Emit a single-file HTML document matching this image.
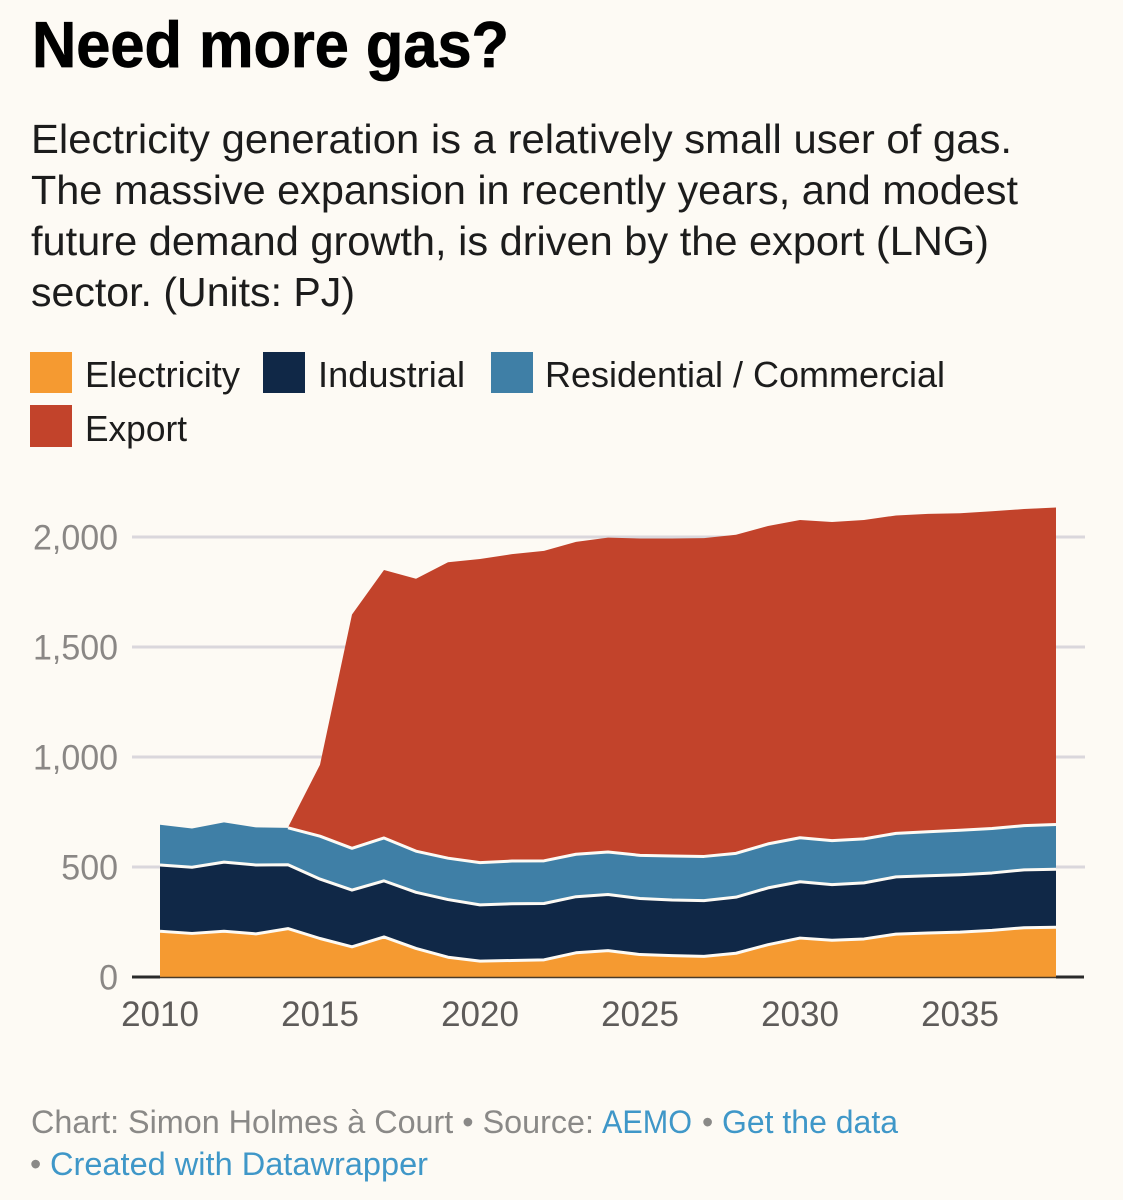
<!DOCTYPE html>
<html lang="en">
<head>
<meta charset="utf-8">
<title>Need more gas?</title>
<style>
html,body{margin:0;padding:0;background:#fdfaf4;}
svg{display:block;font-family:"Liberation Sans",sans-serif;}
text{font-family:"Liberation Sans",sans-serif;}
</style>
</head>
<body>
<svg id="chart" xmlns="http://www.w3.org/2000/svg" width="1123" height="1200" viewBox="0 0 1123 1200">
  <rect x="0" y="0" width="1123" height="1200" fill="#fdfaf4"/>
  <text x="32" y="67" font-size="65" font-weight="700" fill="#000" stroke="#000" stroke-width="0.8" textLength="477" lengthAdjust="spacingAndGlyphs">Need more gas?</text>
  <g font-size="41" fill="#1c1c1c">
    <text x="31" y="153" textLength="981" lengthAdjust="spacingAndGlyphs">Electricity generation is a relatively small user of gas.</text>
    <text x="31" y="204" textLength="987" lengthAdjust="spacingAndGlyphs">The massive expansion in recently years, and modest</text>
    <text x="31" y="255" textLength="958" lengthAdjust="spacingAndGlyphs">future demand growth, is driven by the export (LNG)</text>
    <text x="31" y="306" textLength="324" lengthAdjust="spacingAndGlyphs">sector. (Units: PJ)</text>
  </g>
  <g font-size="36" fill="#1c1c1c">
    <rect x="30" y="352" width="42" height="41" fill="#f59a31"/>
    <text x="85" y="387" textLength="155" lengthAdjust="spacingAndGlyphs">Electricity</text>
    <rect x="263" y="352" width="42" height="41" fill="#102847"/>
    <text x="318" y="387" textLength="147" lengthAdjust="spacingAndGlyphs">Industrial</text>
    <rect x="491" y="352" width="42" height="41" fill="#3f7fa6"/>
    <text x="545" y="387" textLength="400" lengthAdjust="spacingAndGlyphs">Residential / Commercial</text>
    <rect x="30" y="405" width="42" height="42" fill="#c2432b"/>
    <text x="85" y="441" textLength="102" lengthAdjust="spacingAndGlyphs">Export</text>
  </g>
  <g id="grid"></g>
  <g id="areas"></g>
  <g id="yticks"></g>
  <g id="xticks"></g>
  <g font-size="32" fill="#8a8987">
    <text x="31" y="1133" textLength="563" lengthAdjust="spacingAndGlyphs">Chart: Simon Holmes à Court • Source:</text>
    <text x="602" y="1133" fill="#3f97c8" textLength="90" lengthAdjust="spacingAndGlyphs">AEMO</text>
    <text x="702" y="1133">•</text>
    <text x="722" y="1133" fill="#3f97c8" textLength="176" lengthAdjust="spacingAndGlyphs">Get the data</text>
    <text x="30" y="1175">•</text>
    <text x="50" y="1175" fill="#3f97c8" textLength="378" lengthAdjust="spacingAndGlyphs">Created with Datawrapper</text>
  </g>
</svg>
<script>
var years = [2010,2011,2012,2013,2014,2015,2016,2017,2018,2019,2020,2021,2022,2023,2024,2025,2026,2027,2028,2029,2030,2031,2032,2033,2034,2035,2036,2037,2038];
var electricity = [208,198,208,196,220,175,137,182,130,90,72,75,78,110,120,102,97,94,108,147,177,167,173,195,200,204,212,224,226];
var industrial = [301,301,314,313,290,270,258,255,255,262,256,258,256,255,255,255,253,253,255,258,256,253,255,260,260,261,261,263,264];
var residential = [183,176,181,171,168,195,190,195,187,188,192,194,194,193,193,196,200,201,199,200,200,200,200,198,200,202,202,201,203];
var exportGas = [0,0,0,0,2,325,1063,1218,1238,1345,1380,1395,1409,1420,1429,1440,1443,1447,1448,1445,1444,1448,1449,1445,1445,1441,1442,1439,1441];
var yTicks = [0,500,1000,1500,2000];
var yTickLabels = ['0','500','1,000','1,500','2,000'];
var xTicks = [2010,2015,2020,2025,2030,2035];

var NS = 'http://www.w3.org/2000/svg';
function x(year){ return 160 + (year - 2010) * 32; }
function y(value){ return 977 - value * 0.22; }
function make(tag, parent, props){
  var el = document.createElementNS(NS, tag);
  for (var k in props) el.setAttribute(k, props[k]);
  parent.appendChild(el);
  return el;
}

var gridGroup = document.getElementById('grid');
yTicks.forEach(function(v){
  if (v === 0) return;
  var line = make('line', gridGroup, {x1:132, x2:1085, y1:y(v), y2:y(v), stroke:'#dad7dc', 'stroke-width':3});
  
  
});

var seriesList = [
  {key:'export', values:exportGas, color:'#c2432b', startAt:4},
  {key:'residential-commercial', values:residential, color:'#3f7fa6', startAt:0},
  {key:'industrial', values:industrial, color:'#102847', startAt:0},
  {key:'electricity', values:electricity, color:'#f59a31', startAt:0}
];
var stackOrder = [electricity, industrial, residential, exportGas];
function stackedTop(seriesIndex, i){
  var total = 0;
  for (var s = 0; s <= seriesIndex; s++) total += stackOrder[s][i];
  return total;
}

var areasGroup = document.getElementById('areas');
seriesList.forEach(function(series, n){
  var level = seriesList.length - 1 - n;
  var top = [];
  var bottom = [];
  for (var i = series.startAt; i < years.length; i++) {
    top.push(x(years[i]) + ',' + y(stackedTop(level, i)).toFixed(2));
    bottom.unshift(x(years[i]) + ',' + y(level === 0 ? 0 : stackedTop(level - 1, i)).toFixed(2));
  }
  var area = make('polygon', areasGroup, {points: top.concat(bottom).join(' '), fill: series.color});
  
  
});
seriesList.forEach(function(series, n){
  var level = seriesList.length - 1 - n;
  if (level === 3) return;
  var pts = [];
  for (var i = (level === 2 ? 4 : 0); i < years.length; i++) {
    pts.push(x(years[i]) + ',' + y(stackedTop(level, i)).toFixed(2));
  }
  var edge = make('polyline', areasGroup, {points: pts.join(' '), fill:'none', stroke:'#fdfaf4', 'stroke-width':3, 'stroke-linejoin':'round'});
  
  
});
var baseLeft = make('line', areasGroup, {x1:132, x2:160, y1:y(0), y2:y(0), stroke:'#2a2a2a', 'stroke-width':3});


var baseMid = make('line', areasGroup, {x1:160, x2:x(2038), y1:y(0)+0.5, y2:y(0)+0.5, stroke:'#4a3a28', 'stroke-width':1.6});


var baseRight = make('line', areasGroup, {x1:x(2038), x2:1084, y1:y(0), y2:y(0), stroke:'#2a2a2a', 'stroke-width':3});



var yGroup = document.getElementById('yticks');
yTicks.forEach(function(v, i){
  var t = make('text', yGroup, {x:118, y:y(v)+12.5, 'text-anchor':'end', 'font-size':35, fill:'#8a8785'});
  
  
  t.textContent = yTickLabels[i];
  t.setAttribute('lengthAdjust', 'spacingAndGlyphs');
  t.setAttribute('textLength', (t.getComputedTextLength() * 0.97).toFixed(1));
});

var xGroup = document.getElementById('xticks');
xTicks.forEach(function(v){
  var t = make('text', xGroup, {x:x(v), y:1026, 'text-anchor':'middle', 'font-size':35, fill:'#5e5b59'});
  
  
  t.textContent = String(v);
});
</script>
</body>
</html>
